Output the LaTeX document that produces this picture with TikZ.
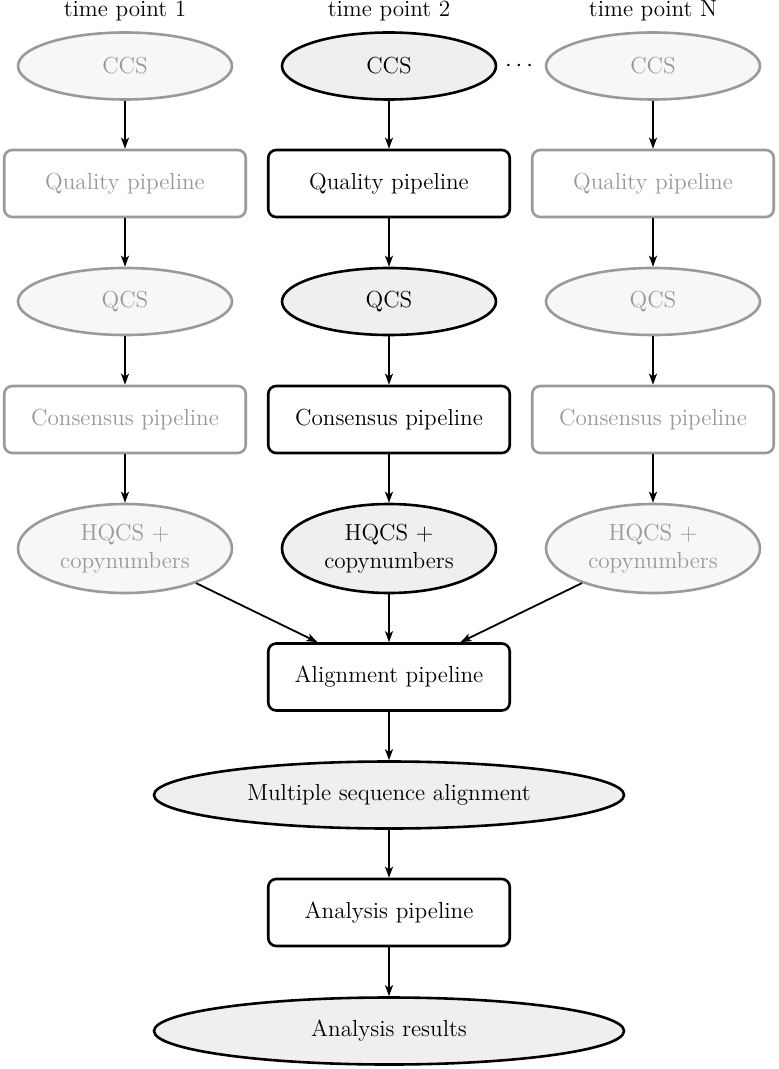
\documentclass[tikz,border=0pt]{standalone}
\usetikzlibrary{arrows.meta,shapes.geometric}
\definecolor{fadeline}{HTML}{9A9A9A}
\definecolor{fadetext}{HTML}{999999}
\definecolor{fadefill}{HTML}{F7F7F7}
\definecolor{actfill}{HTML}{EFEFEF}
\tikzset{
  base/.style={font=\fontsize{11.6}{13.8}\selectfont, line width=1.3pt, inner sep=0pt, align=center},
  ell/.style={base, ellipse, draw=black, fill=actfill, minimum width=107pt, minimum height=33.5pt},
  ellwide/.style={ell, minimum width=235pt},
  box/.style={base, rectangle, rounded corners=4pt, draw=black, fill=white, minimum width=120.75pt, minimum height=33.5pt},
  faded/.style={draw=fadeline, text=fadetext, fill=fadefill},
  fadedbox/.style={draw=fadeline, text=fadetext, fill=white},
  title/.style={font=\fontsize{11.6}{13.8}\selectfont, inner sep=0pt, anchor=base},
  arr/.style={-{Stealth[length=5.5pt,width=4pt,inset=1.4pt]}, line width=0.9pt, black}
}
\begin{document}
\begin{tikzpicture}[x=0.5pt,y=-0.5pt]
\useasboundingbox (0,0) rectangle (778,1069);
% titles
\node[title] (t1) at (125,17) {time point 1};
\node[title] (t2) at (389,17) {time point 2};
\node[title] (t3) at (653,17) {time point N};
% column 1 (faded)
\node[ell,faded] (ccs1) at (125,66) {CCS};
\node[box,fadedbox] (qp1) at (125,183.5) {Quality pipeline};
\node[ell,faded] (qcs1) at (125,301.5) {QCS};
\node[box,fadedbox] (cp1) at (125,419.5) {Consensus pipeline};
\node[ell,faded, minimum height=44.5pt] (hq1) at (125,548.5) {HQCS +\\copynumbers};
% column 2 (active)
\node[ell] (ccs2) at (389,66) {CCS};
\node[box] (qp2) at (389,183.5) {Quality pipeline};
\node[ell] (qcs2) at (389,301.5) {QCS};
\node[box] (cp2) at (389,419.5) {Consensus pipeline};
\node[ell, minimum height=44.5pt] (hq2) at (389,548.5) {HQCS +\\copynumbers};
% column 3 (faded)
\node[ell,faded] (ccs3) at (653,66) {CCS};
\node[box,fadedbox] (qp3) at (653,183.5) {Quality pipeline};
\node[ell,faded] (qcs3) at (653,301.5) {QCS};
\node[box,fadedbox] (cp3) at (653,419.5) {Consensus pipeline};
\node[ell,faded, minimum height=44.5pt] (hq3) at (653,548.5) {HQCS +\\copynumbers};
% dots
\node[font=\fontsize{11.6}{13.8}\selectfont, inner sep=0pt] (dots) at (519,66) {$\cdots$};
% lower chain
\node[box] (al) at (389,677) {Alignment pipeline};
\node[ellwide] (msa) at (389,795) {Multiple sequence alignment};
\node[box] (an) at (389,912.5) {Analysis pipeline};
\node[ellwide] (res) at (389,1031) {Analysis results};
% arrows
\foreach \i in {1,2,3}{
  \draw[arr] (ccs\i) -- (qp\i);
  \draw[arr] (qp\i) -- (qcs\i);
  \draw[arr] (qcs\i) -- (cp\i);
  \draw[arr] (cp\i) -- (hq\i);
  \draw[arr] (hq\i) -- (al);
}
\draw[arr] (al) -- (msa);
\draw[arr] (msa) -- (an);
\draw[arr] (an) -- (res);
\end{tikzpicture}
\end{document}
